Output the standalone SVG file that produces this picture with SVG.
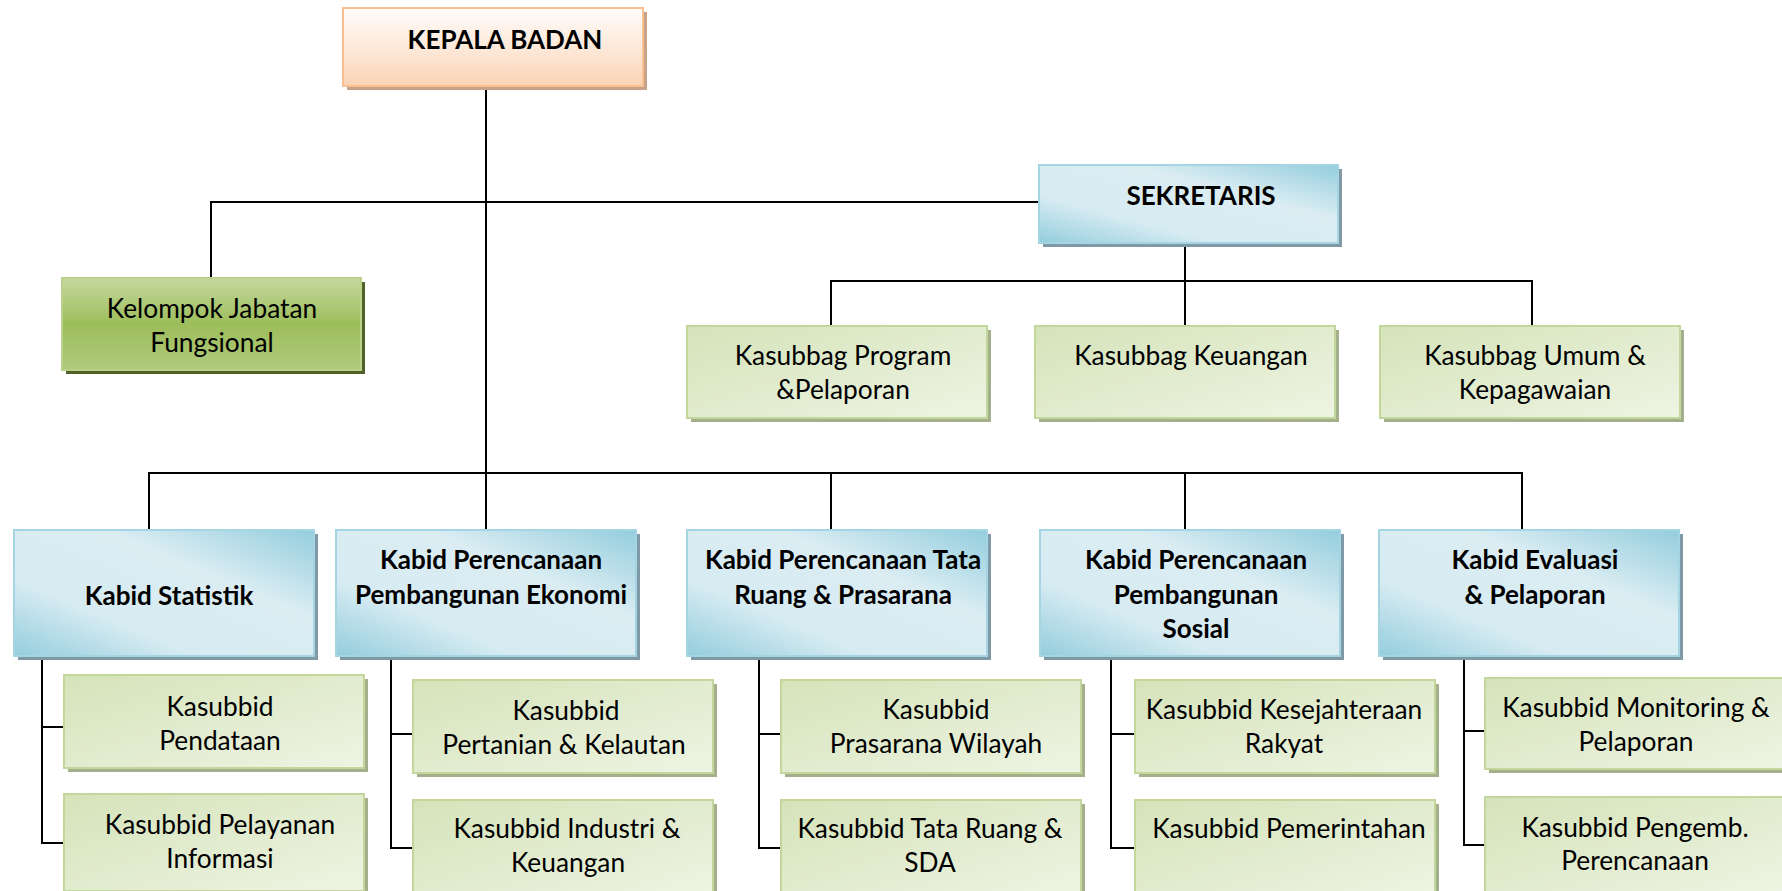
<svg xmlns="http://www.w3.org/2000/svg" width="1782" height="891" viewBox="0 0 1782 891">
<defs>
<linearGradient id="gPeach" x1="0" y1="0" x2="0" y2="1">
<stop offset="0" stop-color="#fffdfb"/><stop offset="0.5" stop-color="#fde9da"/><stop offset="1" stop-color="#fad4b6"/>
</linearGradient>
<linearGradient id="gBlue" x1="0" y1="1" x2="1" y2="0">
<stop offset="0" stop-color="#93cddd"/><stop offset="0.3" stop-color="#d6ebf2"/><stop offset="0.65" stop-color="#dbedf3"/><stop offset="1" stop-color="#93cddd"/>
</linearGradient>
<linearGradient id="gGreen" x1="0" y1="0" x2="0" y2="1">
<stop offset="0" stop-color="#c5d99f"/><stop offset="0.5" stop-color="#9dbd5b"/><stop offset="1" stop-color="#b0ca7c"/>
</linearGradient>
<linearGradient id="gLight" x1="0" y1="0" x2="1" y2="1">
<stop offset="0" stop-color="#d5e3b9"/><stop offset="1" stop-color="#eef4e3"/>
</linearGradient>
</defs>
<style>
text{font-family:Lato,"Liberation Sans",sans-serif;font-size:26.3px;fill:#000;text-anchor:middle}
.b{font-weight:bold;font-size:26px}
.peach{fill:url(#gPeach);stroke:#fac090;stroke-width:2}
.blue{fill:url(#gBlue);stroke:#a5d5e3;stroke-width:2}
.green{fill:url(#gGreen);stroke:#b9d18a;stroke-width:2}
.light{fill:url(#gLight);stroke:#c3d69b;stroke-width:2}
.shP{fill:#c8a288}
.shB{fill:#7f9aa6}
.shG{fill:#4f6228}
.shL{fill:#a3b08b}
.c{stroke:#000;stroke-width:2;fill:none}
</style>
<rect width="1782" height="891" fill="#fff"/>
<g id="connectors">
<path class="c" d="M486 86V473"/>
<path class="c" d="M211 278V202H1039"/>
<path class="c" d="M1185 243V326M831 326V281H1532V326"/>
<path class="c" d="M149 530V473H1522V530M486 473V530M831 473V530M1185 473V530"/>
<path class="c" d="M42 656V843H64M42 727H64"/>
<path class="c" d="M391 656V848H413M391 734H413"/>
<path class="c" d="M759 656V848H781M759 734H781"/>
<path class="c" d="M1111 656V848H1135M1111 734H1135"/>
<path class="c" d="M1464 656V845H1485M1464 731H1485"/>
</g>
<g id="kepala-badan">
<rect class="shP" x="347" y="12" width="300" height="78"/>
<rect class="peach" x="343" y="8" width="300" height="78"/>
<text class="b" x="505" y="49">KEPALA BADAN</text>
</g>
<g id="sekretaris">
<rect class="shB" x="1043" y="169" width="299" height="78"/>
<rect class="blue" x="1039" y="165" width="299" height="78"/>
<text class="b" x="1201" y="205">SEKRETARIS</text>
</g>
<g id="kelompok-jabatan-fungsional">
<rect class="shG" x="66" y="282" width="299" height="92"/>
<rect class="green" x="62" y="278" width="299" height="92"/>
<text x="212" y="318">Kelompok Jabatan</text>
<text x="212" y="352">Fungsional</text>
</g>
<g id="kasubbag-program">
<rect class="shL" x="691" y="330" width="300" height="92"/>
<rect class="light" x="687" y="326" width="300" height="92"/>
<text x="843" y="365">Kasubbag Program</text>
<text x="843" y="399">&amp;Pelaporan</text>
</g>
<g id="kasubbag-keuangan">
<rect class="shL" x="1039" y="330" width="300" height="92"/>
<rect class="light" x="1035" y="326" width="300" height="92"/>
<text x="1191" y="365">Kasubbag Keuangan</text>
</g>
<g id="kasubbag-umum">
<rect class="shL" x="1384" y="330" width="300" height="92"/>
<rect class="light" x="1380" y="326" width="300" height="92"/>
<text x="1535" y="365">Kasubbag Umum &amp;</text>
<text x="1535" y="399">Kepagawaian</text>
</g>
<g id="kabid-statistik">
<rect class="shB" x="18" y="534" width="300" height="126"/>
<rect class="blue" x="14" y="530" width="300" height="126"/>
<text class="b" x="169" y="605">Kabid Statistik</text>
</g>
<g id="kabid-ekonomi">
<rect class="shB" x="340" y="534" width="300" height="126"/>
<rect class="blue" x="336" y="530" width="300" height="126"/>
<text class="b" x="491" y="569">Kabid Perencanaan</text>
<text class="b" x="491" y="604">Pembangunan Ekonomi</text>
</g>
<g id="kabid-tata-ruang">
<rect class="shB" x="691" y="534" width="300" height="126"/>
<rect class="blue" x="687" y="530" width="300" height="126"/>
<text class="b" x="843" y="569">Kabid Perencanaan Tata</text>
<text class="b" x="843" y="604">Ruang &amp; Prasarana</text>
</g>
<g id="kabid-sosial">
<rect class="shB" x="1044" y="534" width="300" height="126"/>
<rect class="blue" x="1040" y="530" width="300" height="126"/>
<text class="b" x="1196" y="569">Kabid Perencanaan</text>
<text class="b" x="1196" y="604">Pembangunan</text>
<text class="b" x="1196" y="638">Sosial</text>
</g>
<g id="kabid-evaluasi">
<rect class="shB" x="1383" y="534" width="300" height="126"/>
<rect class="blue" x="1379" y="530" width="300" height="126"/>
<text class="b" x="1535" y="569">Kabid Evaluasi</text>
<text class="b" x="1535" y="604">&amp; Pelaporan</text>
</g>
<g id="kasubbid-pendataan">
<rect class="shL" x="68" y="679" width="300" height="93"/>
<rect class="light" x="64" y="675" width="300" height="93"/>
<text x="220" y="716">Kasubbid</text>
<text x="220" y="750">Pendataan</text>
</g>
<g id="kasubbid-pelayanan-informasi">
<rect class="shL" x="68" y="798" width="300" height="97"/>
<rect class="light" x="64" y="794" width="300" height="97"/>
<text x="220" y="834">Kasubbid Pelayanan</text>
<text x="220" y="868">Informasi</text>
</g>
<g id="kasubbid-pertanian">
<rect class="shL" x="417" y="684" width="300" height="93"/>
<rect class="light" x="413" y="680" width="300" height="93"/>
<text x="566" y="720">Kasubbid</text>
<text x="564" y="754">Pertanian &amp; Kelautan</text>
</g>
<g id="kasubbid-industri">
<rect class="shL" x="417" y="804" width="300" height="97"/>
<rect class="light" x="413" y="800" width="300" height="97"/>
<text x="567" y="838">Kasubbid Industri &amp;</text>
<text x="568" y="872">Keuangan</text>
</g>
<g id="kasubbid-prasarana">
<rect class="shL" x="785" y="684" width="300" height="93"/>
<rect class="light" x="781" y="680" width="300" height="93"/>
<text x="936" y="719">Kasubbid</text>
<text x="936" y="753">Prasarana Wilayah</text>
</g>
<g id="kasubbid-tata-ruang">
<rect class="shL" x="785" y="804" width="300" height="97"/>
<rect class="light" x="781" y="800" width="300" height="97"/>
<text x="930" y="838">Kasubbid Tata Ruang &amp;</text>
<text x="930" y="872">SDA</text>
</g>
<g id="kasubbid-kesejahteraan">
<rect class="shL" x="1139" y="684" width="300" height="93"/>
<rect class="light" x="1135" y="680" width="300" height="93"/>
<text x="1284" y="719">Kasubbid Kesejahteraan</text>
<text x="1284" y="753">Rakyat</text>
</g>
<g id="kasubbid-pemerintahan">
<rect class="shL" x="1139" y="804" width="300" height="97"/>
<rect class="light" x="1135" y="800" width="300" height="97"/>
<text x="1289" y="838">Kasubbid Pemerintahan</text>
</g>
<g id="kasubbid-monitoring">
<rect class="shL" x="1489" y="682" width="300" height="91"/>
<rect class="light" x="1485" y="678" width="300" height="91"/>
<text x="1636" y="717">Kasubbid Monitoring &amp;</text>
<text x="1636" y="751">Pelaporan</text>
</g>
<g id="kasubbid-pengembangan">
<rect class="shL" x="1489" y="801" width="300" height="97"/>
<rect class="light" x="1485" y="797" width="300" height="97"/>
<text x="1635" y="837">Kasubbid Pengemb.</text>
<text x="1635" y="870">Perencanaan</text>
</g>
</svg>
